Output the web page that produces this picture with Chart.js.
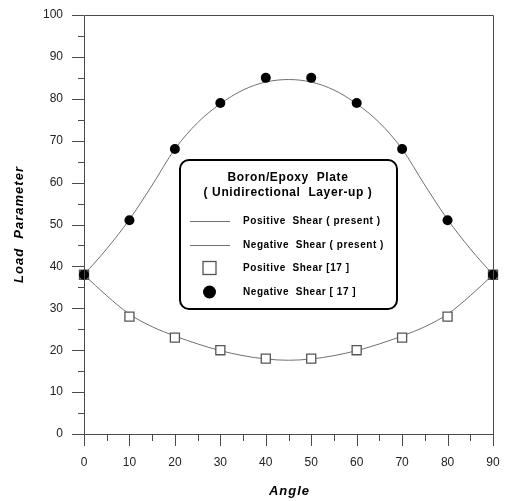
<!DOCTYPE html>
<html>
<head>
<meta charset="utf-8">
<script src="https://cdn.jsdelivr.net/npm/chart.js@4.4.0/dist/chart.umd.min.js"></script>
<style>
  html, body { margin: 0; padding: 0; background: #fff; }
  #wrap { width: 506px; height: 501px; }
</style>
</head>
<body>
<div id="wrap"><canvas id="loadChart" width="506" height="501"></canvas></div>
<script>
// Measured points [17]
const angles = [0, 10, 20, 30, 40, 50, 60, 70, 80, 90];
const negShear17 = [38, 51, 68, 79, 85, 85, 79, 68, 51, 38];
const posShear17 = [38, 28, 23, 20, 18, 18, 20, 23, 28, 38];

// Present solution curves (read every 5 degrees)
const curveAngles = [0, 5, 10, 15, 20, 25, 30, 35, 40, 45, 50, 55, 60, 65, 70, 75, 80, 85, 90];
const negPresent = [38, 44.2, 51.2, 59.4, 68, 74.3, 78.8, 82.1, 84, 84.6, 84, 82.1, 78.8, 74.3, 68, 59.4, 51.2, 44.2, 38];
const posPresent = [38, 33, 28.6, 25.6, 23.4, 21.5, 19.9, 18.7, 17.9, 17.6, 17.9, 18.7, 19.9, 21.5, 23.4, 25.6, 28.6, 33, 38];

const xTicks = [0, 10, 20, 30, 40, 50, 60, 70, 80, 90];
const yTicks = [0, 10, 20, 30, 40, 50, 60, 70, 80, 90, 100];

const legendTitle = ['Boron/Epoxy  Plate', '( Unidirectional  Layer-up )'];
const legendLabels = ['Positive  Shear ( present )', 'Negative  Shear ( present )', 'Positive  Shear [17 ]', 'Negative  Shear [ 17 ]'];

const toXY = (xs, ys) => xs.map((x, i) => ({ x: x, y: ys[i] }));

const axisColor = '#4a4a4a';
const curveColor = '#707070';

// frame, minor/major ticks, axis titles and boxed legend
const framePlugin = {
  id: 'framePlugin',
  afterDraw(chart) {
    const { ctx, chartArea: a, scales } = chart;
    ctx.save();
    ctx.strokeStyle = axisColor;
    ctx.lineWidth = 1;
    ctx.beginPath();
    ctx.rect(Math.round(a.left) + 0.5, Math.round(a.top) + 0.5, Math.round(a.right - a.left), Math.round(a.bottom - a.top));
    ctx.stroke();

    ctx.beginPath();
    for (let v = 0; v <= 100; v += 5) {
      const y = Math.round(scales.y.getPixelForValue(v)) + 0.5;
      const len = v % 10 === 0 ? 12 : 6;
      ctx.moveTo(a.left, y);
      ctx.lineTo(a.left - len, y);
    }
    for (let v = 0; v <= 90; v += 5) {
      const x = Math.round(scales.x.getPixelForValue(v)) + 0.5;
      const len = v % 10 === 0 ? 12 : 7;
      ctx.moveTo(x, a.bottom);
      ctx.lineTo(x, a.bottom + len);
    }
    ctx.stroke();

    // axis titles
    ctx.fillStyle = '#000';
    ctx.font = 'italic bold 13px "Liberation Sans", Arial, sans-serif';
    ctx.letterSpacing = '1px';
    ctx.textAlign = 'center';
    ctx.textBaseline = 'middle';
    ctx.fillText('Angle', (a.left + a.right) / 2 + 1, 491);
    ctx.save();
    ctx.translate(19, (a.top + a.bottom) / 2);
    ctx.rotate(-Math.PI / 2);
    ctx.fillText('Load  Parameter', 0, 0);
    ctx.restore();

    // legend box
    const bx = 180, by = 160, bw = 217, bh = 149, r = 9;
    ctx.letterSpacing = '0px';
    ctx.fillStyle = '#fff';
    ctx.strokeStyle = '#000';
    ctx.lineWidth = 2;
    ctx.beginPath();
    ctx.roundRect(bx, by, bw, bh, r);
    ctx.fill();
    ctx.stroke();

    ctx.fillStyle = '#000';
    ctx.font = 'bold 12px "Liberation Sans", Arial, sans-serif';
    ctx.letterSpacing = '0.6px';
    ctx.fillText(legendTitle[0], 288, 178);
    ctx.fillText(legendTitle[1], 288, 193);

    const rows = [221, 245, 268, 292];
    ctx.font = 'bold 10px "Liberation Sans", Arial, sans-serif';
    ctx.letterSpacing = '0.55px';
    ctx.textAlign = 'left';
    legendLabels.forEach((t, i) => ctx.fillText(t, 243, rows[i]));

    ctx.strokeStyle = curveColor;
    ctx.lineWidth = 1;
    ctx.beginPath();
    ctx.moveTo(190, rows[0] + 0.5); ctx.lineTo(230, rows[0] + 0.5);
    ctx.moveTo(190, rows[1] + 0.5); ctx.lineTo(230, rows[1] + 0.5);
    ctx.stroke();

    ctx.strokeStyle = '#555';
    ctx.lineWidth = 1.3;
    ctx.strokeRect(203, rows[2] - 6.5, 13, 13);
    ctx.fillStyle = '#000';
    ctx.beginPath();
    ctx.arc(209.5, rows[3], 6.5, 0, Math.PI * 2);
    ctx.fill();
    ctx.restore();
  }
};

new Chart(document.getElementById('loadChart'), {
  type: 'line',
  data: {
    datasets: [
      {
        label: 'Negative Shear [ 17 ]',
        data: toXY(angles, negShear17),
        showLine: false,
        pointStyle: 'circle',
        pointRadius: 5,
        pointBackgroundColor: '#000',
        pointBorderColor: '#000',
        pointBorderWidth: 0,
        clip: false,
      },
      {
        label: 'Positive Shear [17 ]',
        data: toXY(angles, posShear17),
        showLine: false,
        pointStyle: 'rect',
        pointRadius: 6.4,
        pointBackgroundColor: '#fff',
        pointBorderColor: '#555',
        pointBorderWidth: 1.3,
        clip: false,
      },
      {
        label: 'Negative Shear ( present )',
        data: toXY(curveAngles, negPresent),
        borderColor: curveColor,
        borderWidth: 1,
        pointRadius: 0,
        cubicInterpolationMode: 'monotone',
        fill: false,
      },
      {
        label: 'Positive Shear ( present )',
        data: toXY(curveAngles, posPresent),
        borderColor: curveColor,
        borderWidth: 1,
        pointRadius: 0,
        cubicInterpolationMode: 'monotone',
        fill: false,
      },
    ],
  },
  options: {
    responsive: false,
    animation: false,
    layout: { padding: { top: 15, right: 13, left: 0, bottom: 0 } },
    plugins: {
      legend: { display: false },
      tooltip: { enabled: false },
    },
    scales: {
      x: {
        type: 'linear',
        min: 0,
        max: 90,
        afterFit: (s) => { s.height = 67; s.paddingLeft = 0; s.paddingRight = 0; },
        afterBuildTicks: (s) => { s.ticks = xTicks.map((v) => ({ value: v })); },
        grid: { display: false, drawTicks: false },
        border: { display: false },
        ticks: {
          padding: 21,
          color: '#222',
          font: { family: '"Liberation Sans", Arial, sans-serif', size: 12 },
        },
      },
      y: {
        min: 0,
        max: 100,
        afterFit: (s) => { s.width = 84; s.paddingTop = 0; s.paddingBottom = 0; },
        afterBuildTicks: (s) => { s.ticks = yTicks.map((v) => ({ value: v })); },
        grid: { display: false, drawTicks: false },
        border: { display: false },
        ticks: {
          padding: 21,
          color: '#222',
          font: { family: '"Liberation Sans", Arial, sans-serif', size: 12 },
        },
      },
    },
  },
  plugins: [framePlugin],
});
</script>
</body>
</html>
